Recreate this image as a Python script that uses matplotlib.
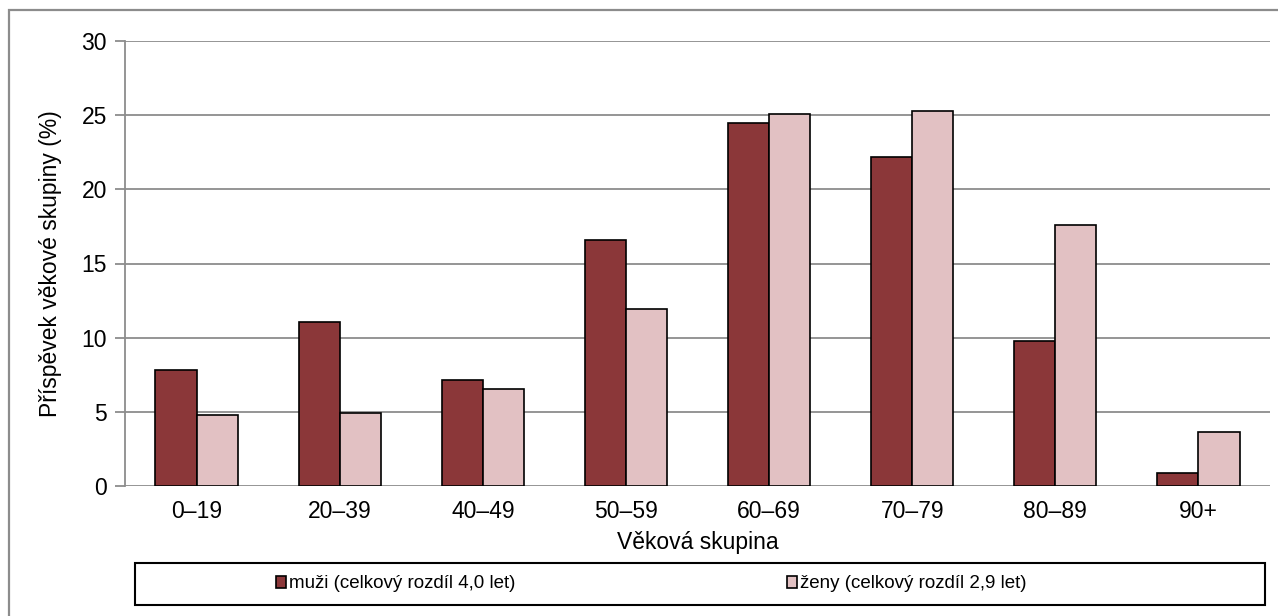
import numpy as np
import matplotlib.pyplot as plt
from matplotlib.patches import Rectangle

plt.rcParams['font.family'] = ['Liberation Sans', 'DejaVu Sans']

skupiny = ['0–19', '20–39', '40–49', '50–59', '60–69', '70–79', '80–89', '90+']
muzi = [7.8, 11.05, 7.15, 16.6, 24.5, 22.2, 9.75, 0.9]
zeny = [4.8, 4.95, 6.55, 11.9, 25.05, 25.3, 17.6, 3.65]
popisky = ['muži (celkový rozdíl 4,0 let)', 'ženy (celkový rozdíl 2,9 let)']

W, H = 1278, 616
fig = plt.figure(figsize=(W / 100, H / 100), dpi=100)
ax = fig.add_axes([125 / W, 1 - 486 / H, 1145 / W, 445 / H])

x = np.arange(len(skupiny))
sirka = 0.287
b1 = ax.bar(x - sirka / 2, muzi, sirka, color='#8b3739', edgecolor='black', linewidth=1.2, zorder=3)
b2 = ax.bar(x + sirka / 2, zeny, sirka, color='#e2c1c3', edgecolor='black', linewidth=1.2, zorder=3)

ax.set_xlim(-0.5, len(skupiny) - 0.5)
ax.set_ylim(0, 30)
ax.set_yticks(range(0, 31, 5))
ax.set_xticks(x)
ax.set_xticklabels(skupiny)
ax.grid(axis='y', color='#8c8c8c', linewidth=1.3, zorder=0)
for s in ['top', 'right', 'bottom']:
    ax.spines[s].set_visible(False)
ax.spines['left'].set_color('#8c8c8c')
ax.spines['left'].set_linewidth(1.3)
ax.tick_params(axis='y', length=7, width=1.3, color='#8c8c8c', labelsize=16.5, pad=6)
ax.tick_params(axis='x', length=0, labelsize=16.5, pad=10)
ax.set_xlabel('Věková skupina', fontsize=16.5, labelpad=6)
ax.set_ylabel('Příspěvek věkové skupiny (%)', fontsize=16.5, labelpad=14)

# rámeček legendy a celého grafu
fig.patches.append(Rectangle((135 / W, 1 - 605 / H), 1130 / W, 42 / H, transform=fig.transFigure,
                             fill=False, edgecolor='black', linewidth=1.5))
fig.patches.append(Rectangle((9 / W, -0.05), 1.1, 1 - 10 / H + 0.05, transform=fig.transFigure,
                             fill=False, edgecolor='#8c8c8c', linewidth=1.6, clip_on=False))

fig.legend([b1, b2], popisky, loc='center', bbox_to_anchor=(651 / W, 1 - 584 / H), ncol=2,
           frameon=False, fontsize=13.5, handlelength=0.55, handleheight=0.55, handletextpad=0.15,
           columnspacing=14.5)

fig.savefig('out.png', dpi=100)
